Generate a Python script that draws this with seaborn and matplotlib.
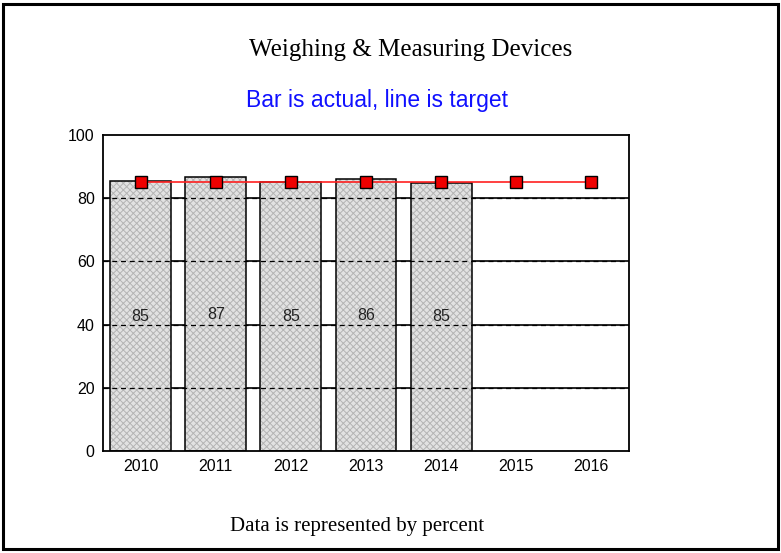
import numpy as np
import pandas as pd
import seaborn as sns
import matplotlib.pyplot as plt
from matplotlib.patches import Rectangle

# Chart values
years = ["2010", "2011", "2012", "2013", "2014", "2015", "2016"]
actual_years = ["2010", "2011", "2012", "2013", "2014"]
actual = [85.4, 86.6, 85.2, 86.0, 84.9]
target = [85, 85, 85, 85, 85, 85, 85]
yticks = [0, 20, 40, 60, 80, 100]

sns.set_style("white")
plt.rcParams["font.family"] = ["Liberation Sans", "DejaVu Sans"]
plt.rcParams["hatch.linewidth"] = 0.7

df = pd.DataFrame({"year": actual_years, "actual": actual})

fig = plt.figure(figsize=(7.81, 5.53), dpi=100)
ax = fig.add_axes([103 / 781, 1 - 451 / 553, 526 / 781, 316 / 553])

# hatched fill
sns.barplot(data=df, x="year", y="actual", order=years, width=0.81,
            color="#e2e2e2", edgecolor="#b4b4b4", linewidth=0, ax=ax, zorder=2)
for p in ax.patches:
    p.set_hatch("xxxxx")

# solid grid behind the bars, dashed grid over them
for v in yticks[1:-1]:
    ax.axhline(v, color="black", lw=1.2, zorder=1)
    ax.axhline(v, color="black", lw=0.9, ls=(0, (4, 3)), zorder=3)

# black bar outlines
sns.barplot(data=df, x="year", y="actual", order=years, width=0.81,
            fill=False, edgecolor="black", linewidth=1.1, ax=ax, zorder=4)

# value labels in the middle of each bar
for i, v in enumerate(actual):
    ax.text(i, v / 2, f"{v:.0f}", ha="center", va="center", fontsize=11.5,
            color="#222222", zorder=5)

# target line
sns.lineplot(x=np.arange(len(years)), y=target, color="#ff2020", lw=1.2,
             marker="s", markersize=8, markerfacecolor="#ee0000",
             markeredgecolor="black", markeredgewidth=1.0, ax=ax, zorder=6)

ax.set_xlim(-0.5, len(years) - 0.5)
ax.set_ylim(0, 100)
ax.set_yticks(yticks)
ax.set_xticks(range(len(years)))
ax.set_xticklabels(years)
ax.tick_params(axis="both", length=0, labelsize=11.5, colors="black", pad=6)
ax.set_xlabel("")
ax.set_ylabel("")
for s in ax.spines.values():
    s.set_color("black")
    s.set_linewidth(1.3)
    s.set_visible(True)

fig.text(411 / 781, 1 - 50 / 553, "Weighing & Measuring Devices",
         family="Liberation Serif", fontsize=18, ha="center", va="center",
         color="black")
fig.text(377 / 781, 1 - 100 / 553, "Bar is actual, line is target",
         fontsize=16.5, color="#1010ff", ha="center", va="center")
fig.text(357 / 781, 1 - 527 / 553, "Data is represented by percent",
         family="Liberation Serif", fontsize=15, ha="center", va="center",
         color="black")

# outer frame
fig.patches.append(Rectangle((3 / 781, 4 / 553), 775 / 781, 545 / 553,
                             transform=fig.transFigure, fill=False,
                             edgecolor="black", lw=2.2))

fig.savefig("out.png", dpi=100)
